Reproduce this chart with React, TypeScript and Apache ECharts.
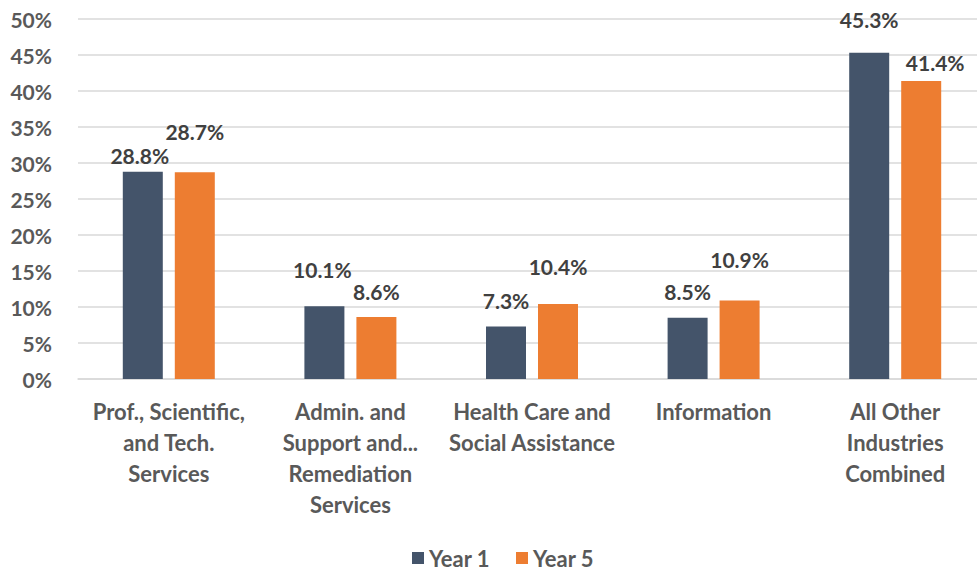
import React, { useEffect, useRef } from "react";
import * as echarts from "echarts";

const categories = [
  "Prof., Scientific,\nand Tech.\nServices",
  "Admin. and\nSupport and...\nRemediation\nServices",
  "Health Care and\nSocial Assistance",
  "Information",
  "All Other\nIndustries\nCombined",
];
const year1 = [28.8, 10.1, 7.3, 8.5, 45.3];
const year5 = [28.7, 8.6, 10.4, 10.9, 41.4];
const seriesNames = ["Year 1", "Year 5"];

// label nudges (style only)
const year1LabelOffsets = [[-3, -1], [-2, -21], [0, -10], [0, -11], [0, -18]];
const year5LabelOffsets = [[0, -25], [0, -10], [0, -22], [0, -26], [14, -3]];

const FONT = "Lato, 'Open Sans', sans-serif";

export default function App() {
  const ref = useRef<HTMLDivElement>(null);
  useEffect(() => {
    if (!ref.current) return;
    const chart = echarts.init(ref.current, null, { renderer: "svg" });
    const mk = (vals: number[], offs: number[][]) =>
      vals.map((v, i) => ({ value: v, label: { offset: offs[i] } }));
    const labelStyle = {
      show: true,
      position: "top",
      formatter: (p: any) => p.value.toFixed(1) + "%",
      fontFamily: FONT,
      fontSize: 21,
      fontWeight: "bold",
      color: "#404040",
    };
    chart.setOption({
      animation: false,
      backgroundColor: "#ffffff",
      textStyle: { fontFamily: FONT },
      grid: { left: 78, right: 9, top: 19, height: 360 },
      legend: {
        data: seriesNames,
        top: 547,
        left: 412,
        padding: 0,
        itemWidth: 12,
        itemHeight: 12,
        itemGap: 26,
        icon: "rect",
        textStyle: {
          fontFamily: FONT,
          fontSize: 22,
          lineHeight: 22,
          fontWeight: "bold",
          color: "#595959",
        },
      },
      xAxis: {
        type: "category",
        data: categories,
        axisTick: { show: false },
        axisLine: { lineStyle: { color: "#d9d9d9", width: 1.5 } },
        axisLabel: {
          interval: 0,
          margin: 17,
          fontFamily: FONT,
          fontSize: 22,
          fontWeight: "bold",
          color: "#595959",
          lineHeight: 31,
        },
      },
      yAxis: {
        type: "value",
        min: 0,
        max: 50,
        interval: 5,
        axisLine: { show: false },
        axisTick: { show: false },
        splitLine: { lineStyle: { color: "#d9d9d9", width: 1.5 } },
        axisLabel: {
          formatter: "{value}%",
          margin: 26,
          fontFamily: FONT,
          fontSize: 21,
          fontWeight: "bold",
          color: "#595959",
        },
      },
      series: [
        {
          name: seriesNames[0],
          type: "bar",
          data: mk(year1, year1LabelOffsets),
          barWidth: 40,
          barGap: "30%",
          itemStyle: { color: "#44546a" },
          label: labelStyle,
        },
        {
          name: seriesNames[1],
          type: "bar",
          data: mk(year5, year5LabelOffsets),
          barWidth: 40,
          barGap: "30%",
          itemStyle: { color: "#ed7d31" },
          label: labelStyle,
        },
      ],
    });
    return () => chart.dispose();
  }, []);
  return (
    <div
      style={{
        position: "fixed",
        left: 0,
        top: 0,
        width: 977,
        height: 571,
        overflow: "hidden",
        background: "#fff",
      }}
    >
      <div ref={ref} style={{ width: 995, height: 571 }} />
    </div>
  );
}
